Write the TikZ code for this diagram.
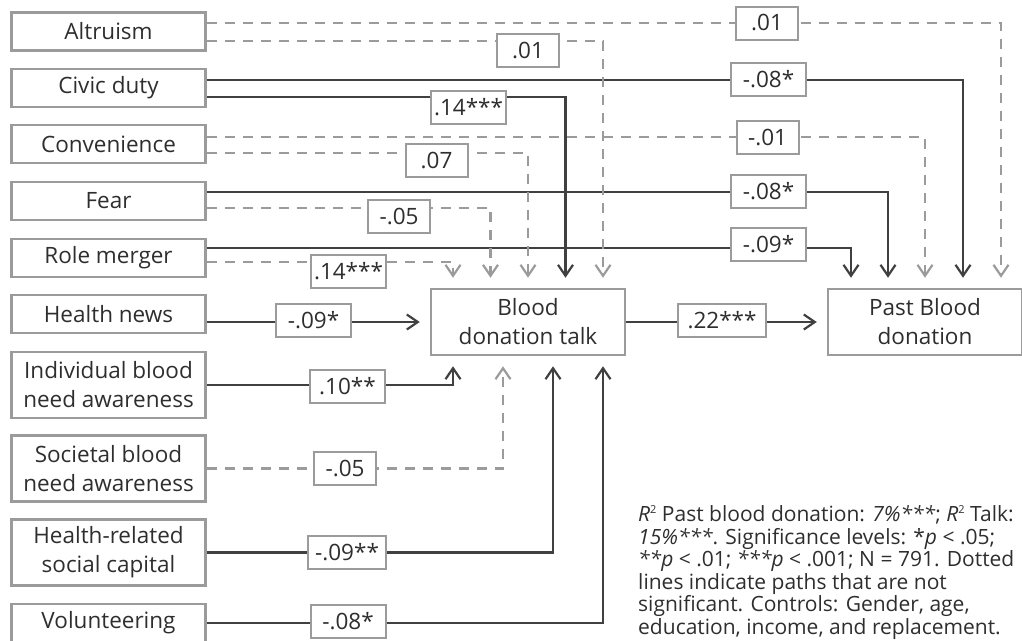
\documentclass[tikz,border=0pt]{standalone}
\usepackage{fontspec}
\setmainfont{Open Sans}
\usepackage{tikz}
\usetikzlibrary{arrows.meta}
\definecolor{dark}{HTML}{404040}
\definecolor{light}{HTML}{9B9B9B}
\definecolor{ink}{HTML}{2E2E2E}
\newcommand{\rsq}{\textit{R}\raisebox{0.75ex}{\fontsize{11}{11}\selectfont 2}}

\begin{document}
\begin{tikzpicture}[x=1pt,y=-1pt,
  var/.style={draw=light,line width=2.5pt,text=ink,minimum width=194pt,minimum height=38pt,align=center,font=\fontsize{22.5}{29}\selectfont},
  tall/.style={var,minimum height=66pt},
  est/.style={draw=light,line width=2pt,fill=white,text=ink,inner sep=2pt,minimum height=33pt,minimum width=#1,font=\fontsize{22.5}{27}\selectfont},
  est/.default=62pt,
  sig/.style={draw=dark,line width=2.2pt,-{Straight Barb[length=11pt,width=15pt]},shorten >=10pt},
  ns/.style={sig,draw=light,dash pattern=on 10pt off 8pt}]

\useasboundingbox (0,0) rectangle (1022,640);

\node[var] (alt) at (108.5,31.5) {Altruism};
\node[var] (civ) at (108.5,88) {Civic duty};
\node[var] (conv) at (108.5,144) {Convenience};
\node[var] (fear) at (108.5,201) {Fear};
\node[var] (role) at (108.5,258) {Role merger};
\node[var] (news) at (108.5,314) {Health news};
\node[tall] (indiv) at (108.5,385) {Individual blood\\need awareness};
\node[tall] (soc) at (108.5,468.5) {Societal blood\\need awareness};
\node[tall] (hrsc) at (108.5,552.5) {Health-related\\social capital};
\node[var] (vol) at (108.5,623) {Volunteering};
\node[tall] (talk) at (528,322) {Blood\\donation talk};
\node[tall] (past) at (925,322) {Past Blood\\donation};

\draw[ns] ([yshift=8.5pt]alt.east) -| ([xshift=76pt]past.north);
\draw[sig] ([yshift=8pt]civ.east) -| ([xshift=38pt]past.north);
\draw[ns] ([yshift=7pt]conv.east) -| (past.north);
\draw[sig] ([yshift=9pt]fear.east) -| ([xshift=-37pt]past.north);
\draw[sig] ([yshift=10pt]role.east) -| ([xshift=-74pt]past.north);

\draw[ns] ([yshift=-9.5pt]alt.east) -| ([xshift=75pt]talk.north);
\draw[sig] ([yshift=-9pt]civ.east) -| ([xshift=37.5pt]talk.north);
\draw[ns] ([yshift=-9pt]conv.east) -| (talk.north);
\draw[ns] ([yshift=-7pt]fear.east) -| ([xshift=-37.5pt]talk.north);
\draw[ns] ([yshift=-4pt]role.east) -| ([xshift=-75pt]talk.north);

\draw[sig] (news.east |- talk.west) -- (talk.west);
\draw[sig] (indiv.east) -| ([xshift=-75pt]talk.south);
\draw[ns] (soc.east) -| ([xshift=-25pt]talk.south);
\draw[sig] (hrsc.east) -| ([xshift=25pt]talk.south);
\draw[sig] (vol.east) -| ([xshift=75pt]talk.south);
\draw[sig] (talk) -- (past);

\node[est] (p1) at (767,23) {.01};
\node[est=75pt] (p2) at (768.5,79) {-.08*};
\node[est] (p3) at (767.5,137) {-.01};
\node[est=75pt] (p4) at (768.5,191.5) {-.08*};
\node[est=75pt] (p5) at (768.5,244.5) {-.09*};
\node[est] (t1) at (528,50.5) {.01};
\node[est=75pt] (t2) at (468.5,107.5) {.14***};
\node[est] (t3) at (436.5,160.5) {.07};
\node[est] (t4) at (399,216.5) {-.05};
\node[est=75pt] (t5) at (348.5,271.5) {.14***};
\node[est=75pt] (t6) at (313.5,320.5) {-.09*};
\node[est=75pt] (t7) at (347.5,386.5) {.10**};
\node[est] (t8) at (345,468.5) {-.05};
\node[est=78pt] (t9) at (347,552.5) {-.09**};
\node[est=75pt] (t10) at (348,621.5) {-.08*};
\node[est=88pt] (t11) at (722,320) {.22***};

\node[anchor=north west,align=left,text=ink,inner sep=0pt,font=\fontsize{21}{22.5}\selectfont] (note) at (638,505)
  {\rsq{} Past blood donation: \textit{7\%***}; \rsq{} Talk:\\
   \textit{15\%***}. Significance levels: *\textit{p} < .05;\\
   \textit{**p} < .01; \textit{***p} < .001; N = 791. Dotted\\
   lines indicate paths that are not\\
   significant. Controls: Gender, age,\\
   education, income, and replacement.};

\end{tikzpicture}
\end{document}
